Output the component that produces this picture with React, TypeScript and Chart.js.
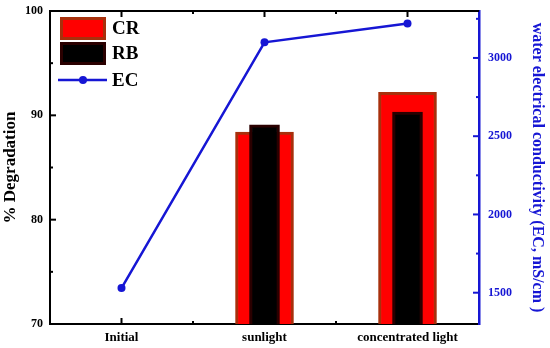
import React, { useEffect, useRef } from 'react';
import { Chart, registerables } from 'chart.js';
Chart.register(...registerables);

const categories = ['Initial', 'sunlight', 'concentrated light'];
const crValues: (number | null)[] = [null, 88.4, 92.2];
const rbValues: (number | null)[] = [null, 89.1, 90.3];
const ecValues = [1530, 3100, 3220];
const leftTicks = [70, 80, 90, 100];
const leftMinorTicks = [75, 85, 95];
const rightTicks = [1500, 2000, 2500, 3000];
const rightMinorTicks = [1750, 2250, 2750, 3250];

const FONT = "'Liberation Serif', 'Times New Roman', serif";
const BLUE = '#1616d4';

const decorPlugin = {
  id: 'decor',
  afterDatasetsDraw(chart: any) {
    const { ctx, chartArea: a, scales } = chart;
    const x = scales.x, y = scales.y, y1 = scales.y1;
    const seg = (x0: number, y0: number, x1: number, y1p: number) => {
      ctx.beginPath(); ctx.moveTo(x0, y0); ctx.lineTo(x1, y1p); ctx.stroke();
    };
    ctx.save();
    ctx.strokeStyle = '#000';
    ctx.lineWidth = 2;
    seg(a.left - 1, a.top, a.right, a.top);
    leftTicks.forEach(v => { const p = y.getPixelForValue(v); seg(a.left, p, a.left + 6, p); });
    leftMinorTicks.forEach(v => { const p = y.getPixelForValue(v); seg(a.left, p, a.left + 3, p); });
    categories.forEach((_, i) => {
      const p = x.getPixelForValue(i);
      seg(p, a.bottom, p, a.bottom - 6);
      seg(p, a.top, p, a.top + 6);
    });
    for (let i = 0; i < categories.length - 1; i++) {
      const p = (x.getPixelForValue(i) + x.getPixelForValue(i + 1)) / 2;
      seg(p, a.bottom, p, a.bottom - 3);
      seg(p, a.top, p, a.top + 3);
    }
    ctx.strokeStyle = BLUE;
    rightTicks.forEach(v => { const p = y1.getPixelForValue(v); seg(a.right, p, a.right - 6, p); });
    rightMinorTicks.forEach(v => { const p = y1.getPixelForValue(v); seg(a.right, p, a.right - 3, p); });
    ctx.restore();
  },
  afterDraw(chart: any) {
    const { ctx, chartArea: a } = chart;
    const ds = chart.data.datasets;
    const bx = a.left + 10, bw = 46, bh = 23;
    ctx.save();
    ctx.font = `bold 19px ${FONT}`;
    ctx.textBaseline = 'middle';
    // CR
    const crTop = a.top + 6;
    ctx.fillStyle = ds[2].backgroundColor;
    ctx.fillRect(bx, crTop, bw, bh);
    ctx.strokeStyle = ds[2].borderColor; ctx.lineWidth = 3;
    ctx.strokeRect(bx + 1.5, crTop + 1.5, bw - 3, bh - 3);
    ctx.fillStyle = '#000';
    ctx.fillText(ds[2].label, bx + bw + 6, crTop + bh / 2 + 1);
    // RB
    const rbTop = a.top + 31;
    ctx.fillStyle = ds[1].backgroundColor;
    ctx.fillRect(bx, rbTop, bw, bh);
    ctx.strokeStyle = ds[1].borderColor; ctx.lineWidth = 3;
    ctx.strokeRect(bx + 1.5, rbTop + 1.5, bw - 3, bh - 3);
    ctx.fillStyle = '#000';
    ctx.fillText(ds[1].label, bx + bw + 6, rbTop + bh / 2 + 1);
    // EC
    const ecY = a.top + 69;
    ctx.strokeStyle = BLUE; ctx.lineWidth = 2.5;
    ctx.beginPath(); ctx.moveTo(bx - 2, ecY); ctx.lineTo(bx + bw + 1, ecY); ctx.stroke();
    ctx.fillStyle = BLUE;
    ctx.beginPath(); ctx.arc(bx + 23, ecY, 4, 0, Math.PI * 2); ctx.fill();
    ctx.fillStyle = '#000';
    ctx.fillText(ds[0].label, bx + bw + 6, ecY + 1);
    ctx.restore();
  },
};

export default function App() {
  const ref = useRef<HTMLCanvasElement>(null);
  useEffect(() => {
    if (!ref.current) return;
    const chart = new Chart(ref.current, {
      type: 'bar',
      data: {
        labels: categories,
        datasets: [
          {
            type: 'line',
            label: 'EC',
            data: ecValues,
            yAxisID: 'y1',
            borderColor: BLUE,
            backgroundColor: BLUE,
            borderWidth: 2.5,
            pointRadius: 4,
            pointBackgroundColor: BLUE,
            pointBorderWidth: 0,
            order: 0,
          } as any,
          {
            label: 'RB',
            data: rbValues,
            yAxisID: 'y',
            backgroundColor: '#000000',
            borderColor: '#2a0000',
            borderWidth: 3,
            barThickness: 30,
            grouped: false,
            order: 1,
          },
          {
            label: 'CR',
            data: crValues,
            yAxisID: 'y',
            backgroundColor: '#ff0000',
            borderColor: '#a8300c',
            borderWidth: 3,
            barThickness: 58,
            grouped: false,
            order: 2,
          },
        ],
      },
      options: {
        animation: false,
        responsive: false,
        layout: { padding: { top: 11, left: 0, right: 0, bottom: 0 } },
        plugins: { legend: { display: false }, tooltip: { enabled: false } },
        scales: {
          x: {
            grid: { display: false },
            border: { display: true, color: '#000', width: 2 },
            ticks: { color: '#000', font: { family: FONT, size: 13, weight: 'bold' }, padding: -2, maxRotation: 0 },
            afterFit: (s: any) => { s.height = 24; },
          },
          y: {
            position: 'left',
            min: 70,
            max: 100,
            grid: { display: false },
            border: { display: true, color: '#000', width: 2 },
            afterBuildTicks: (s: any) => { s.ticks = leftTicks.map(v => ({ value: v })); },
            ticks: { color: '#000', font: { family: FONT, size: 12, weight: 'bold' }, padding: -1, callback: (v: any) => String(v) },
            title: { display: true, text: '% Degradation', color: '#000', font: { family: FONT, size: 17, weight: 'bold' }, padding: { top: 0, bottom: 0 } },
            afterFit: (s: any) => { s.width = 50; },
          },
          y1: {
            position: 'right',
            min: 1300,
            max: 3300,
            grid: { display: false },
            border: { display: true, color: BLUE, width: 2.5 },
            afterBuildTicks: (s: any) => { s.ticks = rightTicks.map(v => ({ value: v })); },
            ticks: { color: BLUE, font: { family: FONT, size: 12, weight: 'bold' }, padding: 1, callback: (v: any) => String(v) },
            title: { display: true, text: 'water electrical conductivity (EC, mS/cm )', color: BLUE, font: { family: FONT, size: 16, weight: 'bold' }, padding: { top: 3, bottom: 0 } },
            afterFit: (s: any) => { s.width = 71; },
          },
        },
      },
      plugins: [decorPlugin],
    } as any);
    return () => chart.destroy();
  }, []);
  return (
    <div style={{ position: 'fixed', left: 0, top: 0, width: 550, height: 348, background: '#fff' }}>
      <canvas ref={ref} width={550} height={348} style={{ width: 550, height: 348 }} />
    </div>
  );
}
